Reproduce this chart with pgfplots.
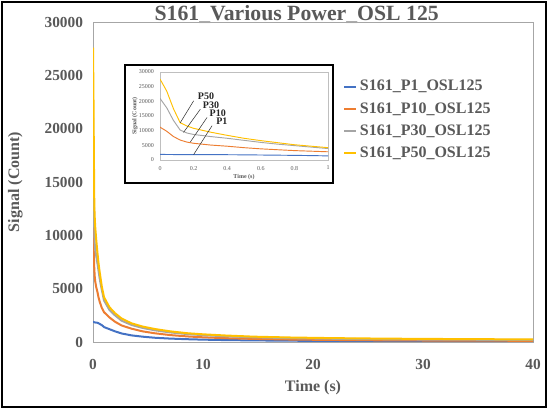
\documentclass[border=0pt]{standalone}
\usepackage{fontspec}
\setmainfont{Liberation Serif}
\usepackage{pgfplots}
\usepackage{pgfplotstable}
\pgfplotsset{compat=1.18}

\definecolor{sP1}{HTML}{4472C4}
\definecolor{sP10}{HTML}{ED7D31}
\definecolor{sP30}{HTML}{A5A5A5}
\definecolor{sP50}{HTML}{FFC000}
\definecolor{txt}{HTML}{595959}

% OSL decay, signal in counts vs time in s
\pgfplotstableread{
t     p1    p10    p30    p50
0     1900  11200  21000  27600
0.04  1880  9800   17800  23500
0.08  1860  8000   13500  17500
0.12  1850  6800   10200  12700
0.16  1840  6100   9200   11600
0.2   1830  5700   8700   10800
0.3   1820  5100   8000   9500
0.4   1800  4700   7400   8400
0.5   1760  4200   6700   7400
0.6   1700  3800   6000   6600
0.7   1640  3500   5400   5900
0.8   1580  3200   4900   5200
0.9   1500  3000   4400   4700
1.0   1400  2800   3900   4200
1.5   1200  2300   3000   3250
2     1000  1900   2500   2700
2.6   800   1550   2000   2200
3.5   620   1250   1600   1750
4.5   500   1000   1320   1450
5.6   400   820    1100   1220
7     320   650    900    1000
8.6   260   520    740    820
10    220   440    640    720
12    180   360    540    610
14.6  150   290    440    500
18    120   230    360    420
22    100   190    300    360
26    90    160    260    320
30    80    140    230    290
35    70    125    210    265
40    60    110    190    240
}\decay

\begin{document}
\begin{tikzpicture}
\path[use as bounding box] (0,0) rectangle (411pt,306.75pt);
\draw[line width=1.6pt] (1.2pt,1.2pt) rectangle (409.8pt,305.55pt);

\node[font=\bfseries\fontsize{16.3}{19}\selectfont, text=txt] at (222.5pt,296pt) {S161\_Various Power\_OSL 125};
\node[font=\bfseries\fontsize{12}{14}\selectfont, text=txt, rotate=90] at (11.5pt,170.25pt) {Signal (Count)};
\node[font=\bfseries\fontsize{12}{14}\selectfont, text=txt] at (234.75pt,15.75pt) {Time (s)};

\begin{axis}[
  at={(69.75pt,50.25pt)}, anchor=south west,
  scale only axis, width=330pt, height=240pt,
  xmin=0, xmax=40, ymin=0, ymax=30000,
  xtick={0,10,...,40}, ytick={0,5000,...,30000},
  scaled y ticks=false,
  /pgf/number format/1000 sep={},
  /pgf/number format/assume math mode=true,
  major tick length=0pt,
  axis line style={draw=black!35},
  ticklabel style={font=\bfseries\fontsize{11.5}{13}\selectfont, text=txt},
  xticklabel style={yshift=-9.5pt},
  yticklabel style={xshift=-4pt},
  legend cell align=left,
  legend style={at={(0.568,0.827)}, anchor=north west, draw=none, fill=none,
    font=\bfseries\fontsize{12}{14}\selectfont,
    row sep=3.2pt, inner sep=0pt},
  legend image code/.code={\draw[#1, line width=1.5pt] (0pt,0pt) -- (9pt,0pt);},
  every axis plot/.append style={line width=1.5pt},
]
\addplot[sP1]  table[x=t, y=p1]  {\decay};
\addplot[sP10] table[x=t, y=p10] {\decay};
\addplot[sP30] table[x=t, y=p30] {\decay};
\addplot[sP50] table[x=t, y=p50] {\decay};
\legend{\textcolor{txt}{S161\_P1\_OSL125}, \textcolor{txt}{S161\_P10\_OSL125},
        \textcolor{txt}{S161\_P30\_OSL125}, \textcolor{txt}{S161\_P50\_OSL125}}
\end{axis}

% inset: first second of the decay
\draw[fill=white, line width=0.8pt] (93.75pt,169.5pt) rectangle (249.75pt,258pt);
\begin{axis}[
  at={(120pt,186.75pt)}, anchor=south west,
  scale only axis, width=126pt, height=66pt,
  xmin=0, xmax=1, ymin=0, ymax=30000,
  xtick={0,0.2,...,1}, ytick={0,5000,...,30000},
  xticklabels={0,0.2,0.4,0.6,0.8,1},
  scaled y ticks=false,
  /pgf/number format/1000 sep={},
  /pgf/number format/assume math mode=true,
  major tick length=0pt,
  axis line style={draw=black!25},
  ticklabel style={font=\fontsize{4.5}{5}\selectfont, text=txt},
  xticklabel style={yshift=-1pt},
  yticklabel style={xshift=-1pt},
  xlabel={Time (s)}, ylabel={Signal (Count)},
  label style={font=\bfseries\fontsize{4.5}{5}\selectfont, text=txt},
  xlabel style={yshift=4pt},
  ylabel style={yshift=-6pt},
  every axis plot/.append style={line width=0.7pt},
]
\addplot[sP1]  table[x=t, y=p1]  {\decay};
\addplot[sP10] table[x=t, y=p10] {\decay};
\addplot[sP30] table[x=t, y=p30] {\decay};
\addplot[sP50] table[x=t, y=p50] {\decay};
\begin{scope}[line width=0.4pt, black!80]
\draw (axis cs:0.2,20150) -- (axis cs:0.12,12650);
\draw (axis cs:0.24,17300) -- (axis cs:0.14,9400);
\draw (axis cs:0.28,14500) -- (axis cs:0.18,6100);
\draw (axis cs:0.31,11700) -- (axis cs:0.2,1830);
\end{scope}
\begin{scope}[font=\bfseries\fontsize{7.5}{8}\selectfont, text=black!85]
\node[anchor=west, inner sep=0.5pt] at (axis cs:0.22,21600) {P50};
\node[anchor=west, inner sep=0.5pt] at (axis cs:0.25,18750) {P30};
\node[anchor=west, inner sep=0.5pt] at (axis cs:0.29,15900) {P10};
\node[anchor=west, inner sep=0.5pt] at (axis cs:0.33,13100) {P1};
\end{scope}
\end{axis}
\end{tikzpicture}
\end{document}
